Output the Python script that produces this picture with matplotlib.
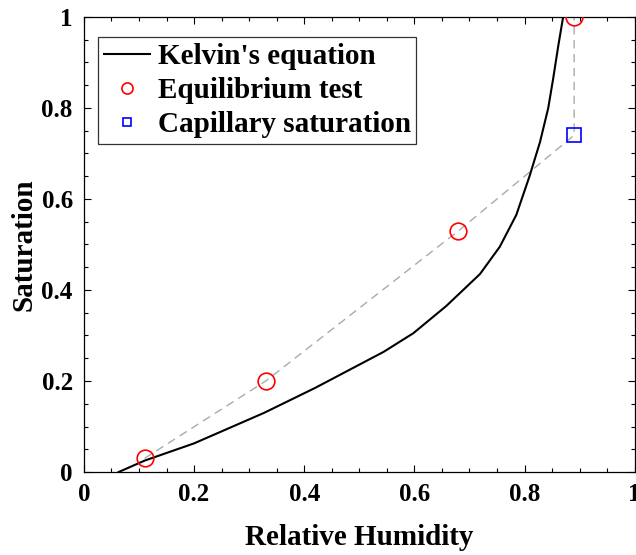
import matplotlib
matplotlib.use('Agg')
import matplotlib.pyplot as plt
from matplotlib.lines import Line2D
from matplotlib.ticker import MultipleLocator

# Kelvin's equation curve
kelvin_rh = [0.063, 0.11, 0.2, 0.327, 0.42, 0.544, 0.598, 0.658, 0.719, 0.755,
             0.785, 0.809, 0.828, 0.843, 0.852, 0.861, 0.870]
kelvin_s = [0.0, 0.025, 0.063, 0.130, 0.185, 0.264, 0.305, 0.365, 0.435, 0.495,
            0.565, 0.650, 0.725, 0.800, 0.865, 0.935, 1.0]

# equilibrium tests
test_rh = [0.11, 0.33, 0.68, 0.89]
test_s = [0.03, 0.20, 0.53, 1.0]

# capillary saturation
cap_rh = [0.89]
cap_s = [0.74]

# dashed guide path through the measurements
path_rh = test_rh[:3] + cap_rh + test_rh[3:]
path_s = test_s[:3] + cap_s + test_s[3:]

plt.rcParams['font.family'] = ['Liberation Serif', 'DejaVu Serif']
plt.rcParams['font.weight'] = 'bold'

fig = plt.figure(figsize=(6.36, 5.55), dpi=100)
ax = fig.add_axes([0.132, 0.1495, 0.866, 0.820])

ax.plot(path_rh, path_s, color='#aaaaaa', lw=1, dashes=(6, 4), zorder=1)
ax.plot(kelvin_rh, kelvin_s, color='black', lw=1.5, zorder=2)
ax.plot(test_rh, test_s, 'o', ms=12, mfc='none', mec='red', mew=1.2, zorder=3)
ax.plot(cap_rh, cap_s, 's', ms=10.5, mfc='none', mec='blue', mew=1.2, zorder=3)

ax.set_xlim(0, 1)
ax.set_ylim(0, 1)
ax.xaxis.set_major_locator(MultipleLocator(0.2))
ax.yaxis.set_major_locator(MultipleLocator(0.2))
ax.xaxis.set_minor_locator(MultipleLocator(0.05))
ax.yaxis.set_minor_locator(MultipleLocator(0.05))
ax.xaxis.set_major_formatter(lambda v, p: f'{v:g}')
ax.yaxis.set_major_formatter(lambda v, p: f'{v:g}')
ax.tick_params(which='both', direction='in', top=True, right=True, labelsize=18, width=0.8)
ax.tick_params(which='major', length=5, pad=8)
ax.tick_params(which='minor', length=3)
for s in ax.spines.values():
    s.set_linewidth(0.9)

ax.set_xlabel('Relative Humidity', fontsize=21, fontweight='bold', labelpad=13)
ax.set_ylabel('Saturation', fontsize=21, fontweight='bold', labelpad=3)

handles = [
    Line2D([], [], color='black', lw=1.5),
    Line2D([], [], ls='none', marker='o', ms=8, mfc='none', mec='red', mew=1.2),
    Line2D([], [], ls='none', marker='s', ms=6, mfc='none', mec='blue', mew=1.2),
]
labels = ["Kelvin's equation", 'Equilibrium test', 'Capillary saturation']
leg = ax.legend(handles, labels, loc='upper left', bbox_to_anchor=(0.025, 0.956),
                prop={'size': 21, 'weight': 'bold'}, fancybox=False, edgecolor='#333333',
                framealpha=1, handlelength=1.6, handletextpad=0.25, labelspacing=0.24,
                borderpad=0.2, borderaxespad=0)
leg.get_frame().set_linewidth(0.9)

fig.savefig('out.png', dpi=100)
